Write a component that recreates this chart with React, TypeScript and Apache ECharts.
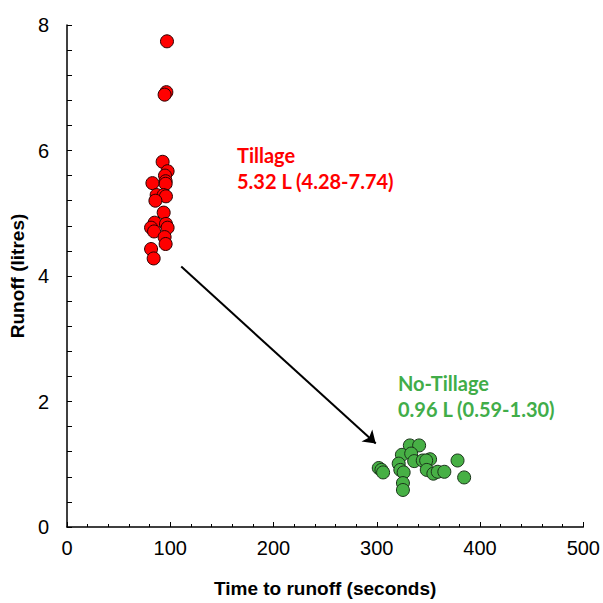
import React, { useEffect, useRef } from "react";
import * as echarts from "echarts";

const tillageTime = [96.8, 96.2, 94.5, 92.6, 97.4, 94.9, 95.5, 95.5, 82.7, 86.8, 93.6, 95.8, 85.6, 93.6, 84.9, 95.8, 81.4, 84.3, 97.4, 94.5, 95.5, 81.4, 83.9];
const tillageRunoff = [7.74, 6.93, 6.89, 5.82, 5.67, 5.6, 5.51, 5.47, 5.48, 5.29, 5.29, 5.27, 5.2, 5.01, 4.85, 4.83, 4.77, 4.71, 4.77, 4.62, 4.51, 4.43, 4.28];
const noTillTime = [332.0, 341.0, 324.3, 333.3, 336.2, 321.2, 344.5, 351.6, 347.8, 378.2, 301.9, 304.5, 306.1, 322.8, 326.0, 348.4, 354.8, 359.0, 365.4, 384.6, 325.3, 325.3];
const noTillRunoff = [1.3, 1.3, 1.15, 1.17, 1.05, 1.01, 1.06, 1.08, 1.06, 1.06, 0.94, 0.91, 0.87, 0.91, 0.87, 0.91, 0.85, 0.88, 0.88, 0.79, 0.7, 0.59];
const arrowStart = [110.6, 4.15];
const arrowEnd = [299, 1.33];
const tillageLabel = ["Tillage", "5.32 L (4.28-7.74)"];
const noTillLabel = ["No-Tillage", "0.96 L (0.59-1.30)"];

export default function App() {
  const ref = useRef<HTMLDivElement>(null);
  useEffect(() => {
    if (!ref.current) return;
    const chart = echarts.init(ref.current, null, { renderer: "svg" });
    const zip = (a: number[], b: number[]) => a.map((v, i) => [v, b[i]]);
    const axisFont = { fontFamily: "Liberation Sans, Arial, sans-serif", fontSize: 20, color: "#000" };
    const annFont = "Lato, Calibri, sans-serif";
    chart.setOption({
      animation: false,
      backgroundColor: "#fff",
      grid: { left: 66, right: 17, top: 25, bottom: 73 },
      xAxis: {
        type: "value",
        min: 0,
        max: 500,
        interval: 100,
        name: "Time to runoff (seconds)",
        nameLocation: "middle",
        nameGap: 52,
        nameTextStyle: { ...axisFont, fontSize: 19, fontWeight: "bold" },
        axisLine: { lineStyle: { color: "#000", width: 1.5 } },
        axisTick: { inside: true, length: 5, lineStyle: { color: "#000" } },
        minorTick: { show: true, splitNumber: 5, length: 3, lineStyle: { color: "#000" } },
        axisLabel: { ...axisFont, margin: 11 },
        splitLine: { show: false },
      },
      yAxis: {
        type: "value",
        min: 0,
        max: 8,
        interval: 2,
        name: "Runoff (litres)",
        nameLocation: "middle",
        nameGap: 36,
        nameTextStyle: { ...axisFont, fontSize: 19, fontWeight: "bold" },
        axisLine: { show: true, lineStyle: { color: "#000", width: 1.5 } },
        axisTick: { show: true, inside: true, length: 5, lineStyle: { color: "#000" } },
        minorTick: { show: true, splitNumber: 5, length: 5, lineStyle: { color: "#000" } },
        axisLabel: { ...axisFont, margin: 18 },
        splitLine: { show: false },
      },
      series: [
        {
          type: "scatter",
          name: "Tillage",
          data: zip(tillageTime, tillageRunoff),
          symbolSize: 13,
          itemStyle: { color: "#FF0000", borderColor: "#2a0000", borderWidth: 1, opacity: 1 },
          markLine: {
            silent: true,
            symbol: ["none", "arrow"],
            symbolSize: 12,
            label: { show: false },
            lineStyle: { color: "#000", width: 2, type: "solid" },
            data: [[{ coord: arrowStart }, { coord: arrowEnd }]],
          },
        },
        {
          type: "scatter",
          name: "No-Tillage",
          data: zip(noTillTime, noTillRunoff),
          symbolSize: 13,
          itemStyle: { color: "#47B045", borderColor: "#1a331a", borderWidth: 1, opacity: 1 },
        },
      ],
      graphic: [
        {
          type: "text",
          left: 237,
          top: 142,
          style: { text: tillageLabel.join("\n"), fill: "#FF0000", font: `bold 20px ${annFont}`, lineHeight: 26 },
        },
        {
          type: "text",
          left: 398,
          top: 370,
          style: { text: noTillLabel.join("\n"), fill: "#41AD49", font: `bold 20px ${annFont}`, lineHeight: 26 },
        },
      ],
    });
    return () => chart.dispose();
  }, []);
  return <div ref={ref} style={{ width: 603, height: 603, position: "absolute", left: 0, top: 0 }} />;
}
